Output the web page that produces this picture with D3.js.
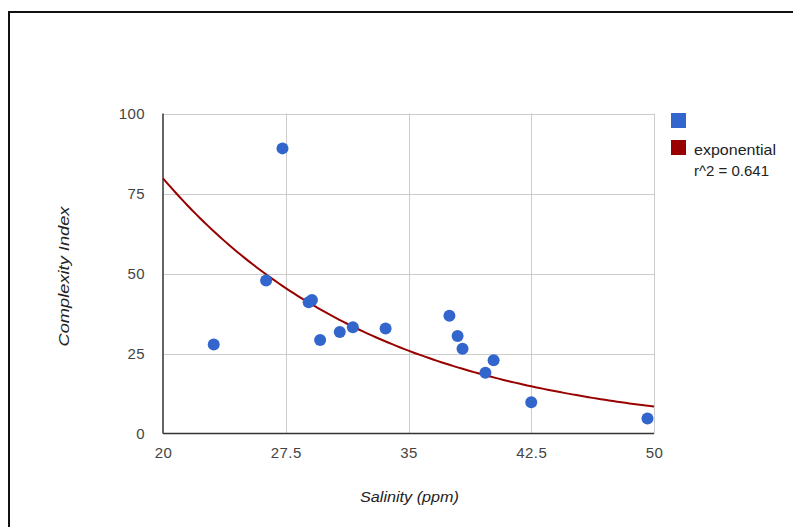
<!DOCTYPE html>
<html>
<head>
<meta charset="utf-8">
<script src="https://cdn.jsdelivr.net/npm/d3@7"></script>
<style>
  html, body { margin: 0; padding: 0; background: #fff; }
  svg { display: block; font-family: Arial, "Liberation Sans", sans-serif; }
</style>
</head>
<body>
<svg id="chart" width="793" height="527"></svg>
<script>
// ---- data ----
const salinity   = [23.1, 26.3, 27.3, 28.9, 29.1, 29.6, 30.8, 31.6, 33.6, 37.5, 38.0, 38.3, 40.2, 39.7, 42.5, 49.6];
const complexity = [27.8, 47.8, 89.1, 41.0, 41.7, 29.2, 31.7, 33.2, 32.8, 36.8, 30.5, 26.5, 22.9, 19.0, 9.8, 4.7];
const xTicks = [20, 27.5, 35, 42.5, 50];
const yTicks = [0, 25, 50, 75, 100];
const trendA = 357.4;      // exponential trendline y = A * exp(B * x)
const trendB = -0.0750;
const legendLabels = ["", "exponential", "r^2 = 0.641"];
const xTitle = "Salinity (ppm)";
const yTitle = "Complexity Index";

// ---- layout ----
const svg = d3.select("#chart");
const pLeft = 163, pRight = 654, pTop = 113.5, pBottom = 433.5;
const x = d3.scaleLinear().domain([20, 50]).range([pLeft, pRight]);
const y = d3.scaleLinear().domain([0, 100]).range([pBottom, pTop]);
const FONT = "Arial, 'Liberation Sans', sans-serif";

// frame (top and left edges)
svg.append("line").attr("x1", 9).attr("x2", 793).attr("y1", 12).attr("y2", 12)
  .attr("stroke", "#111").attr("stroke-width", 2);
svg.append("line").attr("x1", 9).attr("x2", 9).attr("y1", 11).attr("y2", 527)
  .attr("stroke", "#111").attr("stroke-width", 2);

// grid
const grid = svg.append("g");
grid.selectAll(".gx").data(xTicks.slice(1)).enter().append("line")
  .attr("x1", d => Math.round(x(d)) + 0.5).attr("x2", d => Math.round(x(d)) + 0.5)
  .attr("y1", pTop).attr("y2", pBottom).attr("stroke", "#cccccc").attr("stroke-width", 1);
grid.selectAll(".gy").data(yTicks.slice(1)).enter().append("line")
  .attr("x1", pLeft).attr("x2", pRight)
  .attr("y1", d => Math.round(y(d)) + 0.5).attr("y2", d => Math.round(y(d)) + 0.5)
  .attr("stroke", "#cccccc").attr("stroke-width", 1);

// axes via d3 axis (labels), lines drawn separately
const xAxis = svg.append("g").attr("transform", `translate(0,${pBottom})`)
  .call(d3.axisBottom(x).tickValues(xTicks).tickSize(0).tickPadding(14).tickFormat(d => String(d)));
xAxis.select(".domain").remove();
xAxis.selectAll("text").attr("font-size", 15).attr("fill", "#444").attr("font-family", FONT)
  .attr("letter-spacing", 0.4);

const yAxis = svg.append("g").attr("transform", `translate(${pLeft},0)`)
  .call(d3.axisLeft(y).tickValues(yTicks).tickSize(0).tickPadding(18).tickFormat(d => String(d)));
yAxis.select(".domain").remove();
yAxis.selectAll("text").attr("font-size", 15).attr("fill", "#444").attr("font-family", FONT)
  .attr("letter-spacing", 0.4);

// baseline axis lines
svg.append("line").attr("x1", pLeft).attr("x2", pRight).attr("y1", pBottom).attr("y2", pBottom)
  .attr("stroke", "#333").attr("stroke-width", 1.5);
svg.append("line").attr("x1", pLeft).attr("x2", pLeft).attr("y1", pTop).attr("y2", pBottom)
  .attr("stroke", "#333").attr("stroke-width", 1.5);

// trendline
const tx = d3.range(20, 50.01, 0.25);
const line = d3.line().x(d => x(d)).y(d => y(trendA * Math.exp(trendB * d)));
svg.append("path").datum(tx).attr("d", line)
  .attr("fill", "none").attr("stroke", "#990000").attr("stroke-width", 2);

// points
svg.append("g").selectAll("circle").data(salinity.map((s, i) => [s, complexity[i]])).enter()
  .append("circle").attr("cx", d => x(d[0])).attr("cy", d => y(d[1])).attr("r", 6)
  .attr("fill", "#3366cc");

// axis titles
svg.append("text").attr("x", 409.5).attr("y", 501.5).attr("text-anchor", "middle")
  .attr("font-size", 15).attr("font-style", "italic").attr("fill", "#222")
  .attr("textLength", 99).attr("lengthAdjust", "spacingAndGlyphs").text(xTitle);
svg.append("text").attr("transform", `translate(69,276.5) rotate(-90)`)
  .attr("text-anchor", "middle").attr("font-size", 15).attr("font-style", "italic")
  .attr("fill", "#222").attr("textLength", 140).attr("lengthAdjust", "spacingAndGlyphs").text(yTitle);

// legend
const lg = svg.append("g");
lg.append("rect").attr("x", 671).attr("y", 113).attr("width", 15).attr("height", 15).attr("fill", "#3366cc");
lg.append("rect").attr("x", 671).attr("y", 140).attr("width", 15).attr("height", 15).attr("fill", "#990000");
lg.append("text").attr("x", 694).attr("y", 155).attr("font-size", 15).attr("fill", "#222")
  .attr("textLength", 82).attr("lengthAdjust", "spacingAndGlyphs").text(legendLabels[1]);
lg.append("text").attr("x", 694).attr("y", 176).attr("font-size", 15).attr("fill", "#222")
  .attr("textLength", 75).attr("lengthAdjust", "spacingAndGlyphs").text(legendLabels[2]);
</script>
</body>
</html>
